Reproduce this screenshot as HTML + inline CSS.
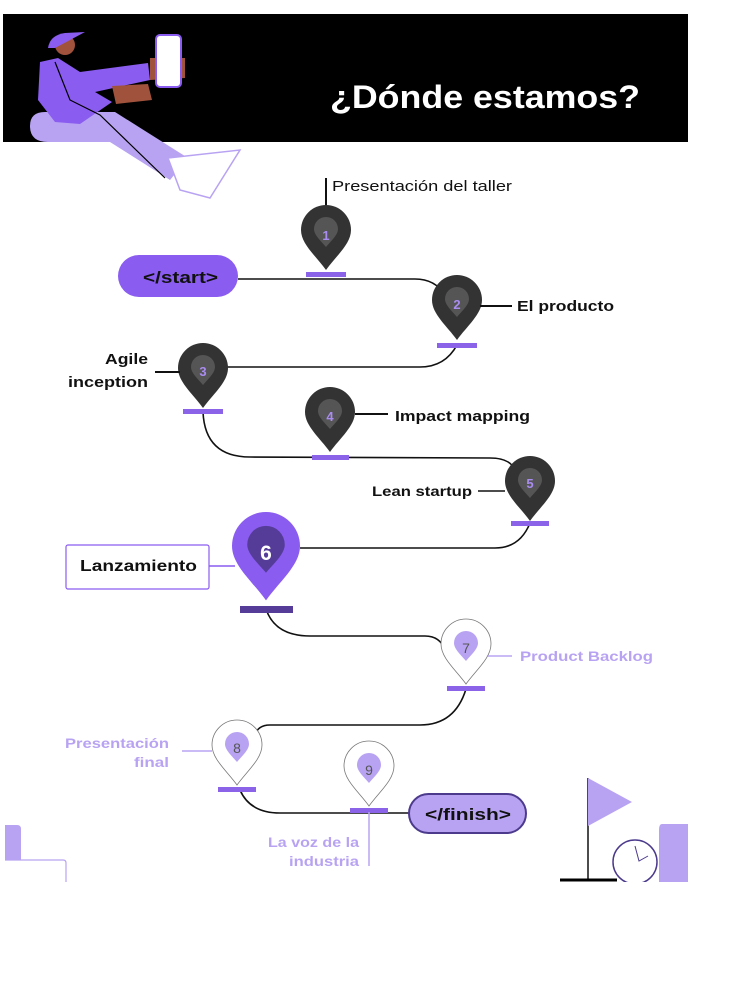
<!DOCTYPE html>
<html><head><meta charset="utf-8"><style>
body{margin:0;background:#fff;}
svg{display:block;font-family:"Liberation Sans",sans-serif;}
</style></head><body>
<svg width="744" height="992" viewBox="0 0 744 992">
<defs>
<path id="pin" d="M0,40 C-10,26 -25,14 -25,0 A25,25 0 1 1 25,0 C25,14 10,26 0,40 Z"/>
<path id="inner" d="M0,18 C-5,12 -12,6 -12,0 A12,12 0 1 1 12,0 C12,6 5,12 0,18 Z"/>
</defs>
<rect x="3" y="14" width="685" height="128" fill="#000"/>
<text x="330" y="108" fill="#fff" font-size="32" font-weight="bold" textLength="310" lengthAdjust="spacingAndGlyphs">¿Dónde estamos?</text>
<g>
<path d="M45,112 Q30,112 30,126 Q30,142 48,142 L110,142 L170,180 L188,158 L115,112 Z" fill="#b8a3f2"/>
<path d="M40,62 L58,58 L80,72 L148,63 L150,80 L95,92 L112,102 L80,124 L55,122 L38,100 Z" fill="#8a5cf0"/>
<path d="M112,86 L148,84 L152,100 L116,104 Z" fill="#a0523d"/>
<path d="M150,58 L185,58 L185,78 L150,80 Z" fill="#a0523d"/>
<rect x="156" y="35" width="25" height="52" rx="4" fill="#fff" stroke="#8a5cf0" stroke-width="2"/>
<circle cx="65" cy="45" r="10" fill="#a0523d"/>
<path d="M48,48 Q50,35 65,33 L85,32 L70,40 L55,48 Z" fill="#8a5cf0"/>
<path d="M168,158 L240,150 L210,198 L180,190 Z" fill="#fff" stroke="#b8a3f2" stroke-width="1.5"/>
<path d="M55,62 L70,100 L100,115 L165,178" fill="none" stroke="#000" stroke-width="1.2"/>
</g>
<path fill="none" stroke="#111" stroke-width="1.6" d="M238,279 L415,279 Q435,279 445,295 M457,345 Q445,367 420,367 L225,367 M203,412 Q205,457 250,457 L490,458 Q510,458 515,470 M530,523 Q520,548 495,548 L300,548 M266,609 Q275,636 310,636 L425,636 Q440,636 445,650 M466,689 Q455,725 420,725 L270,725 Q258,725 255,735 M240,790 Q250,813 280,813 L410,813"/>
<rect x="118" y="255" width="120" height="42" rx="21" fill="#8a5cf0"/>
<text x="143" y="283" font-size="17" font-weight="bold" fill="#111" textLength="75" lengthAdjust="spacingAndGlyphs">&lt;/start&gt;</text>
<g><line x1="326" y1="178" x2="326" y2="210" stroke="#111" stroke-width="2"/><use href="#pin" transform="translate(326,230)" fill="#333"/><use href="#inner" transform="translate(326,229)" fill="#555"/><text x="326" y="240" fill="#a98cf0" font-size="13" font-weight="bold" text-anchor="middle">1</text><rect x="306" y="272" width="40" height="5" fill="#8a63e8"/></g>
<text x="332" y="191" font-size="15" fill="#111" textLength="180" lengthAdjust="spacingAndGlyphs">Presentación del taller</text>
<g><use href="#pin" transform="translate(457,300)" fill="#333"/><use href="#inner" transform="translate(457,299)" fill="#555"/><text x="457" y="309" fill="#a98cf0" font-size="13" font-weight="bold" text-anchor="middle">2</text><rect x="437" y="343" width="40" height="5" fill="#8a63e8"/><line x1="480" y1="306" x2="512" y2="306" stroke="#111" stroke-width="2"/></g>
<text x="517" y="311" font-size="15" font-weight="bold" fill="#111" textLength="97" lengthAdjust="spacingAndGlyphs">El producto</text>
<g><use href="#pin" transform="translate(203,368)" fill="#333"/><use href="#inner" transform="translate(203,367)" fill="#555"/><text x="203" y="376" fill="#a98cf0" font-size="13" font-weight="bold" text-anchor="middle">3</text><rect x="183" y="409" width="40" height="5" fill="#8a63e8"/><line x1="155" y1="372" x2="180" y2="372" stroke="#111" stroke-width="2"/></g>
<text font-size="15" font-weight="bold" fill="#111"><tspan x="105" y="364" textLength="43" lengthAdjust="spacingAndGlyphs">Agile</tspan><tspan x="68" y="387" textLength="80" lengthAdjust="spacingAndGlyphs">inception</tspan></text>
<g><use href="#pin" transform="translate(330,412)" fill="#333"/><use href="#inner" transform="translate(330,411)" fill="#555"/><text x="330" y="421" fill="#a98cf0" font-size="13" font-weight="bold" text-anchor="middle">4</text><rect x="312" y="455" width="37" height="5" fill="#8a63e8"/><line x1="355" y1="414" x2="388" y2="414" stroke="#111" stroke-width="2"/></g>
<text x="395" y="421" font-size="15" font-weight="bold" fill="#111" textLength="135" lengthAdjust="spacingAndGlyphs">Impact mapping</text>
<g><use href="#pin" transform="translate(530,481)" fill="#333"/><use href="#inner" transform="translate(530,480)" fill="#555"/><text x="530" y="488" fill="#a98cf0" font-size="13" font-weight="bold" text-anchor="middle">5</text><rect x="511" y="521" width="38" height="5" fill="#8a63e8"/><line x1="478" y1="491" x2="505" y2="491" stroke="#111" stroke-width="1.5"/></g>
<text x="372" y="496" font-size="14" font-weight="bold" fill="#111" textLength="100" lengthAdjust="spacingAndGlyphs">Lean startup</text>
<g><line x1="209" y1="566" x2="235" y2="566" stroke="#8a5cf0" stroke-width="1.5"/><g transform="translate(266,546) scale(1.36)"><use href="#pin" fill="#8a5cf0"/><use href="#inner" transform="translate(0,-1) scale(1.15)" fill="#563c99"/></g><text x="266" y="560" fill="#fff" font-size="21" font-weight="bold" text-anchor="middle">6</text><rect x="240" y="606" width="53" height="7" fill="#563c99"/></g>
<rect x="66" y="545" width="143" height="44" rx="2" fill="#fff" stroke="#8a5cf0" stroke-width="1.2"/>
<text x="80" y="571" font-size="16" font-weight="bold" fill="#111" textLength="117" lengthAdjust="spacingAndGlyphs">Lanzamiento</text>
<g><use href="#pin" transform="translate(466,644)" fill="#fff" stroke="#777" stroke-width="0.8"/><use href="#inner" transform="translate(466,643)" fill="#b8a3f2"/><text x="466" y="653" fill="#555" font-size="14" text-anchor="middle">7</text><rect x="447" y="686" width="38" height="5" fill="#8a63e8"/><line x1="488" y1="656" x2="512" y2="656" stroke="#b8a3f2" stroke-width="1.5"/></g>
<text x="520" y="661" font-size="14" font-weight="bold" fill="#b8a3f2" textLength="133" lengthAdjust="spacingAndGlyphs">Product Backlog</text>
<g><use href="#pin" transform="translate(237,745)" fill="#fff" stroke="#777" stroke-width="0.8"/><use href="#inner" transform="translate(237,744)" fill="#b8a3f2"/><text x="237" y="753" fill="#555" font-size="14" text-anchor="middle">8</text><rect x="218" y="787" width="38" height="5" fill="#8a63e8"/><line x1="182" y1="751" x2="212" y2="751" stroke="#b8a3f2" stroke-width="1.5"/></g>
<text font-size="14" font-weight="bold" fill="#b8a3f2"><tspan x="65" y="748" textLength="104" lengthAdjust="spacingAndGlyphs">Presentación</tspan><tspan x="134" y="767" textLength="35" lengthAdjust="spacingAndGlyphs">final</tspan></text>
<g><use href="#pin" transform="translate(369,766)" fill="#fff" stroke="#777" stroke-width="0.8"/><use href="#inner" transform="translate(369,765)" fill="#b8a3f2"/><text x="369" y="775" fill="#555" font-size="14" text-anchor="middle">9</text><rect x="350" y="808" width="38" height="5" fill="#8a63e8"/><line x1="369" y1="812" x2="369" y2="866" stroke="#b8a3f2" stroke-width="1.5"/></g>
<text font-size="14" font-weight="bold" fill="#b8a3f2"><tspan x="268" y="847" textLength="91" lengthAdjust="spacingAndGlyphs">La voz de la</tspan><tspan x="289" y="866" textLength="70" lengthAdjust="spacingAndGlyphs">industria</tspan></text>
<rect x="409" y="794" width="117" height="39" rx="19.5" fill="#b8a3f2" stroke="#4c3a8c" stroke-width="2"/>
<text x="425" y="820" font-size="17" font-weight="bold" fill="#111" textLength="86" lengthAdjust="spacingAndGlyphs">&lt;/finish&gt;</text>
<g><path d="M5,825 L17,825 Q21,825 21,829 L21,860 L5,860 Z" fill="#b8a3f2"/><path d="M5,860 L63,860 Q66,860 66,863 L66,882" fill="none" stroke="#b8a3f2" stroke-width="1.2"/></g>
<g><line x1="588" y1="778" x2="588" y2="880" stroke="#111" stroke-width="1.5"/><path d="M588,778 L632,802 L588,826 Z" fill="#b8a3f2"/><line x1="560" y1="880" x2="617" y2="880" stroke="#000" stroke-width="3"/><path d="M662,824 L688,824 L688,882 L659,882 L659,830 Q659,824 662,824 Z" fill="#b8a3f2"/><circle cx="635" cy="862" r="22" fill="#fff" stroke="#4c3a8c" stroke-width="1.5"/><path d="M635,846 L639,861 L648,856" fill="none" stroke="#4c3a8c" stroke-width="1"/></g>
<rect x="0" y="882" width="744" height="110" fill="#fff"/>
</svg>
</body></html>
